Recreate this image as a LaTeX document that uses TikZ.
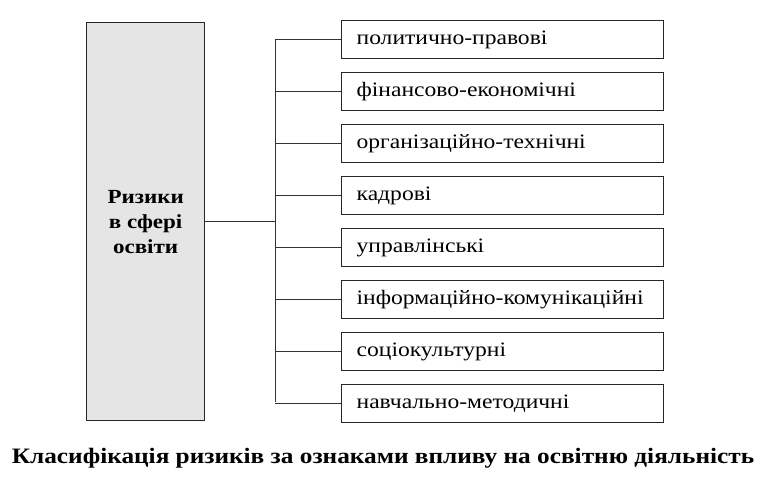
\documentclass[tikz,border=0pt]{standalone}
\usepackage{fontspec}
\setmainfont{Liberation Serif}[FakeStretch=1.15]
\begin{document}
\begin{tikzpicture}[x=1pt,y=-1pt,
 item/.style={draw=black!85,line width=1.3pt,minimum width=322pt,minimum height=38pt,anchor=north west,align=left,text width=292pt,inner xsep=14pt,font=\fontsize{20.5}{22}\selectfont},
 ln/.style={draw=black!80,line width=0.8pt}]
\useasboundingbox (0,0) rectangle (780,477);
\node[draw=black!85,line width=1.3pt,fill=black!10,minimum width=118pt,minimum height=398pt,anchor=north west,align=center,font=\bfseries\fontsize{20}{25}\selectfont] (main) at (86,22) {Ризики\\в сфері\\освіти};
\coordinate (trunkTop) at (275,39);
\coordinate (trunkBot) at (275,402);
\coordinate (mid) at (275,221);
\foreach \t [count=\i] in {политично-правові,фінансово-економічні,організаційно-технічні,кадрові,управлінські,інформаційно-комунікаційні,соціокультурні,навчально-методичні}{
 \node[item] (b\i) at (341,{20+(\i-1)*52}) {\strut\t};
 \draw[ln] (b\i.west) -- (b\i.west -| mid);
}
\draw[ln] (trunkTop) -- (trunkBot);
\draw[ln] (main.east |- mid) -- (mid);
\node[font=\bfseries\fontsize{22}{24}\selectfont] (cap) at (383,458) {Класифікація ризиків за ознаками впливу на освітню діяльність};
\end{tikzpicture}
\end{document}
